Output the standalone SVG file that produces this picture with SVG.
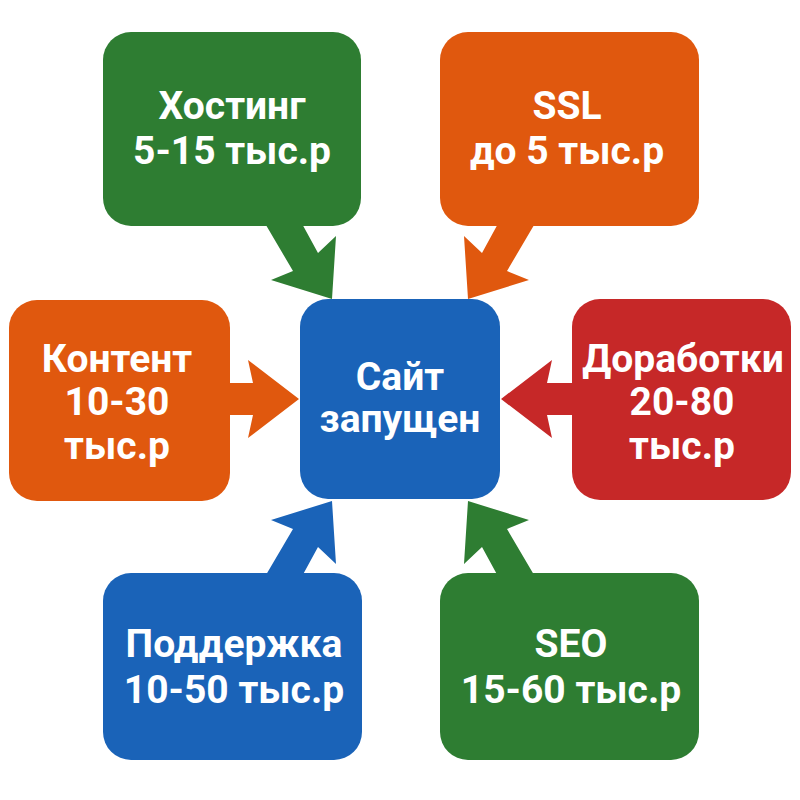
<svg xmlns="http://www.w3.org/2000/svg" width="800" height="800" viewBox="0 0 800 800">
<style>
.t{font-family:Roboto,"Liberation Sans",sans-serif;font-weight:bold;font-size:39px;fill:#fff;text-anchor:middle}
.g{fill:#2E7D32}.o{fill:#E0580E}.r{fill:#C62828}.b{fill:#1A63B8}
</style>
<rect width="800" height="800" fill="#fff"/>
<g id="connectors">
<polygon class="g" points="263,220 293,271 271,280 332,299 336,236 318,253 300,220"/>
<polygon class="o" points="537,220 507,271 529,280 468,299 464,236 482,253 500,220"/>
<polygon class="o" points="224,383 253,383 248,360 299,399 248,438 253,415 224,415"/>
<polygon class="r" points="578,383 547,383 552,360 501,399 552,438 547,415 578,415"/>
<polygon class="b" points="263,580 293,529 271,520 332,501 336,564 318,547 300,580"/>
<polygon class="g" points="537,580 507,529 529,520 468,501 464,564 482,547 500,580"/>
</g>
<g id="center"><rect class="b" x="300" y="299" width="200" height="200" rx="28"/><text class="t" x="400" y="390">Сайт</text><text class="t" x="400" y="432">запущен</text></g>
<g id="hosting"><rect class="g" x="103" y="32" width="258" height="194" rx="28"/><text class="t" x="232" y="119">Хостинг</text><text class="t" x="232" y="164">5-15 тыс.р</text></g>
<g id="ssl"><rect class="o" x="440" y="32" width="259" height="194" rx="28"/><text class="t" x="567" y="119">SSL</text><text class="t" x="567" y="164">до 5 тыс.р</text></g>
<g id="content"><rect class="o" x="9" y="300" width="221" height="201" rx="28"/><text class="t" x="117" y="372">Контент</text><text class="t" x="117" y="415">10-30</text><text class="t" x="117" y="459">тыс.р</text></g>
<g id="dorabotki"><rect class="r" x="572" y="299" width="219" height="201" rx="28"/><text class="t" x="683" y="372">Доработки</text><text class="t" x="682" y="415">20-80</text><text class="t" x="682" y="459">тыс.р</text></g>
<g id="support"><rect class="b" x="103" y="573" width="259" height="187" rx="28"/><text class="t" x="234" y="657">Поддержка</text><text class="t" x="234" y="703">10-50 тыс.р</text></g>
<g id="seo"><rect class="g" x="440" y="573" width="259" height="187" rx="28"/><text class="t" x="571" y="657">SEO</text><text class="t" x="571" y="703">15-60 тыс.р</text></g>
</svg>
